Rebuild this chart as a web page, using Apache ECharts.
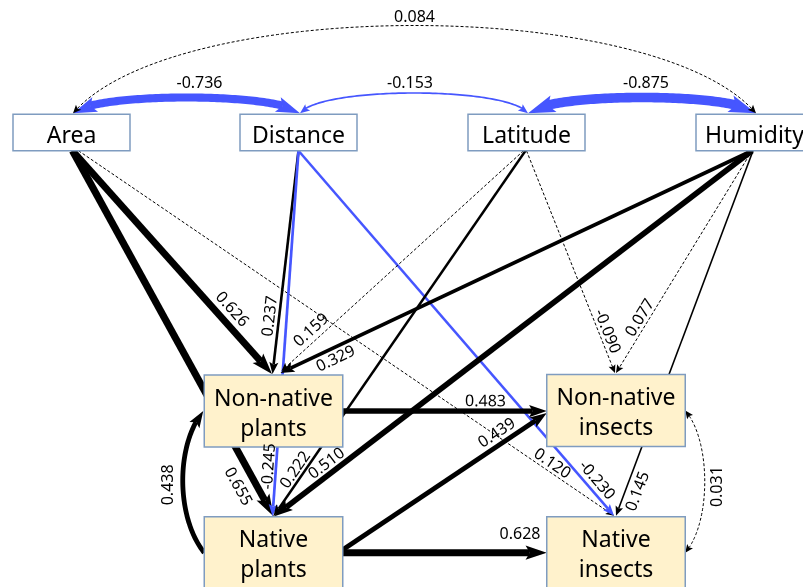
<!DOCTYPE html>
<html><head><meta charset="utf-8">
<script src="https://cdn.jsdelivr.net/npm/echarts@6/dist/echarts.min.js"></script>
<style>html,body{margin:0;padding:0;background:#fff}#c{width:803px;height:587px}</style>
</head><body><div id="c"></div>
<script>
// ---------------- data ----------------
const nodeKeys = ['Area','Distance','Latitude','Humidity','Non-native plants','Native plants','Non-native insects','Native insects'];
const nodeLabels = ['Area','Distance','Latitude','Humidity','Non-native\nplants','Native\nplants','Non-native\ninsects','Native\ninsects'];

const pathFrom = ['Area','Area','Area','Distance','Distance','Distance','Latitude','Latitude','Latitude','Humidity','Humidity','Humidity','Humidity','Non-native plants','Native plants','Native plants','Native plants'];
const pathTo   = ['Non-native plants','Native plants','Native insects','Non-native plants','Native plants','Native insects','Non-native plants','Native plants','Non-native insects','Non-native plants','Native plants','Non-native insects','Native insects','Non-native insects','Non-native insects','Native insects','Non-native plants'];
const pathCoef = [0.626,0.655,0.120,0.237,-0.245,-0.230,0.159,0.222,-0.090,0.329,0.510,0.077,0.145,0.483,0.439,0.628,0.438];
const pathSignificant = [1,1,0,1,1,1,0,1,0,1,1,0,1,1,1,1,1];

const corrA = ['Area','Distance','Latitude','Area','Non-native insects'];
const corrB = ['Distance','Latitude','Humidity','Humidity','Native insects'];
const corrCoef = [-0.736,-0.153,-0.875,0.084,0.031];
const corrSignificant = [1,1,1,0,0];

// ---------------- layout (positions / styles) ----------------
const TOP = {w:117,h:36.5,fill:'#ffffff'};
const BOT = {w:138.5,h:72,fill:'#fff2cc'};
const LAYOUT = {
  nodes: {
    'Area':{x:71.5,y:132.5,...TOP},
    'Distance':{x:298.5,y:132.5,...TOP},
    'Latitude':{x:526.5,y:132.5,...TOP},
    'Humidity':{x:754.5,y:132.5,...TOP},
    'Non-native plants':{x:273.5,y:411,...BOT},
    'Native plants':{x:273.5,y:552.7,...BOT},
    'Non-native insects':{x:616,y:410.6,...BOT},
    'Native insects':{x:616,y:552.7,...BOT}
  },
  paths: [
    {f:['b',1,0], t:['t',-1.5,-1], lt:0.75, ld:13},
    {f:['b',1,0], t:['t',0,-0.5], lt:0.897, ld:-17},
    {f:['b',7,0], t:['t',-2,-1], lt:0.876, ld:8},
    {f:['b',0,0], t:['t',-1,-1], lt:0.746, ld:9},
    {f:['b',0,0], t:['t',-1,-0.5], lt:0.865, ld:7},
    {f:['b',0,0], t:['t',-2,-1], lt:0.921, ld:10},
    {f:['b',-3,0], t:['t',8,-4], lt:0.849, ld:10},
    {f:['b',-1,0], t:['t',0,-0.5], lt:0.886, ld:8},
    {f:['b',0,0], t:['t',-1,-1.5], lt:0.826, ld:8},
    {f:['b',-2.5,0], t:['t',7,-2], lt:0.8925, ld:-11},
    {f:['b',-2.5,0], t:['t',1,-0.5], lt:0.878, ld:10},
    {f:['b',-2.5,0], t:['t',0,-1.5], lt:0.771, ld:8},
    {f:['b',-1.5,0], t:['t',0,-1], lt:0.922, ld:-12},
    {f:['r',0,0], t:['l',0,0.5], lt:0.70, ld:9.5},
    {f:['r',0,-3], t:['l',0,2.5], lt:0.786, ld:11},
    {f:['r',0,0], t:['l',0,0], lt:0.869, ld:18},
    {f:['l',0,0], t:['l',-1,0], c1:[-28,-35], c2:[-28,35], lab:[-14,3], rot:90}
  ],
  corrs: [
    {f:['t',1.5,-1], t:['t',1.5,-1], c1:[20,-21], c2:[-20,-21], lab:[13,-14]},
    {f:['t',1.5,-1], t:['t',1.5,-1], c1:[20,-27], c2:[-20,-27], lab:[-4,-10]},
    {f:['t',1.5,-1], t:['t',1.5,-1], c1:[20,-21], c2:[-20,-21], lab:[4,-14]},
    {f:['t',1.5,-1], t:['t',1.5,-1], c1:[100,-117], c2:[-100,-117], lab:[0,-8]},
    {f:['r',0,0], t:['r',0,0], c1:[26,30], c2:[26,-30], lab:[13,5], rot:90}
  ]
};
const BLUE = '#4656ff';
const BORDER = '#7f9cc0';
const FONT = '"Noto Sans", "DejaVu Sans", sans-serif';

// ---------------- build edges ----------------
const edges = [];
pathFrom.forEach((f,i)=>edges.push({from:f,to:pathTo[i],coef:pathCoef[i],sig:!!pathSignificant[i],both:false,geo:LAYOUT.paths[i]}));
corrA.forEach((a,i)=>edges.push({from:a,to:corrB[i],coef:corrCoef[i],sig:!!corrSignificant[i],both:true,geo:LAYOUT.corrs[i]}));

function anchor(key, spec){
  const n = LAYOUT.nodes[key]; const [side,dx,dy] = spec;
  let x=n.x, y=n.y;
  if(side==='t') y-=n.h/2; if(side==='b') y+=n.h/2;
  if(side==='l') x-=n.w/2; if(side==='r') x+=n.w/2;
  return [x+dx,y+dy];
}
function bez(P0,P1,P2,P3,t){
  const m=1-t;
  return [m*m*m*P0[0]+3*m*m*t*P1[0]+3*m*t*t*P2[0]+t*t*t*P3[0],
          m*m*m*P0[1]+3*m*m*t*P1[1]+3*m*t*t*P2[1]+t*t*t*P3[1]];
}
function cutEnd(pts,d){
  const out=pts.slice(); let rem=d;
  while(out.length>1){
    const a=out[out.length-2], b=out[out.length-1];
    const seg=Math.hypot(b[0]-a[0],b[1]-a[1]);
    if(seg>rem){const k=(seg-rem)/seg; out[out.length-1]=[a[0]+(b[0]-a[0])*k,a[1]+(b[1]-a[1])*k]; return out;}
    rem-=seg; out.pop();
  }
  return out;
}
function pointBack(pts,d){
  const c=cutEnd(pts,d); return c[c.length-1];
}
function head(tip,from,L,HW){
  const dx=tip[0]-from[0], dy=tip[1]-from[1], len=Math.hypot(dx,dy)||1;
  const ux=dx/len, uy=dy/len, nx=-uy, ny=ux;
  const bx=tip[0]-ux*L, by=tip[1]-uy*L;
  return [tip,[bx+nx*HW,by+ny*HW],[tip[0]-ux*L*0.8,tip[1]-uy*L*0.8],[bx-nx*HW,by-ny*HW]];
}
function edgeStyle(e){
  const w = e.sig ? Math.abs(e.coef)*11 : 1;
  const color = (e.sig && e.coef<0) ? BLUE : '#000';
  return {w, color, dash: e.sig ? null : [3,2], L: 6+2.2*w, HW: 3+0.6*w};
}

function renderEdge(params, api){
  const e = edges[params.dataIndex], g = e.geo;
  const s = anchor(e.from,g.f), t = anchor(e.to,g.t);
  const S = api.coord(s), T = api.coord(t);
  const st = edgeStyle(e);
  let pts;
  if(g.c1){
    const C1 = api.coord([s[0]+g.c1[0], s[1]+g.c1[1]]);
    const C2 = api.coord([t[0]+g.c2[0], t[1]+g.c2[1]]);
    pts=[]; for(let k=0;k<=100;k++) pts.push(bez(S,C1,C2,T,k/100));
  } else pts=[S,T];
  const children=[];
  let line = cutEnd(pts, st.L*0.8);
  children.push({type:'polygon', shape:{points:head(T, pointBack(pts,st.L), st.L, st.HW)}, style:{fill:st.color}});
  if(e.both){
    const rev = pts.slice().reverse();
    children.push({type:'polygon', shape:{points:head(S, pointBack(rev,st.L), st.L, st.HW)}, style:{fill:st.color}});
    line = cutEnd(line.slice().reverse(), st.L*0.8).reverse();
  }
  children.unshift({type:'polyline', shape:{points:line}, style:{stroke:st.color, lineWidth:st.w, fill:null, lineDash:st.dash, lineCap:'butt'}});
  return {type:'group', children};
}

function renderLabel(params, api){
  const e = edges[params.dataIndex], g = e.geo;
  const s = anchor(e.from,g.f), t = anchor(e.to,g.t);
  let cx, cy, rot=0;
  if(g.c1){
    const m = bez(s,[s[0]+g.c1[0],s[1]+g.c1[1]],[t[0]+g.c2[0],t[1]+g.c2[1]],t,0.5);
    cx = m[0]+g.lab[0]; cy = m[1]+g.lab[1]; rot = (g.rot||0)*Math.PI/180;
  } else {
    let ux=t[0]-s[0], uy=t[1]-s[1]; const len=Math.hypot(ux,uy); ux/=len; uy/=len;
    const px = s[0]+(t[0]-s[0])*g.lt, py = s[1]+(t[1]-s[1])*g.lt;
    if(ux<0 || (ux===0 && uy>0)){ux=-ux; uy=-uy;}
    cx = px + uy*g.ld; cy = py - ux*g.ld;
    rot = -Math.atan2(uy,ux);
  }
  const P = api.coord([cx,cy]);
  return {type:'text', x:P[0], y:P[1], rotation:rot,
    style:{text:e.coef.toFixed(3), fill:'#000', fontSize:16, fontFamily:FONT, align:'center', verticalAlign:'middle'}};
}

function renderNode(params, api){
  const key = nodeKeys[params.dataIndex], n = LAYOUT.nodes[key];
  const tl = api.coord([n.x-n.w/2, n.y-n.h/2]), br = api.coord([n.x+n.w/2, n.y+n.h/2]);
  const c = api.coord([n.x, n.y]);
  const lines = nodeLabels[params.dataIndex].split('\n');
  const children = [{type:'rect', shape:{x:tl[0],y:tl[1],width:br[0]-tl[0],height:br[1]-tl[1]}, style:{fill:n.fill, stroke:BORDER, lineWidth:1.5}}];
  const offs = lines.length===1 ? [4] : [-12, 18];
  lines.forEach((ln,i)=>children.push({type:'text', x:c[0], y:c[1]+offs[i],
    style:{text:ln, fill:'#000', fontSize:23, fontFamily:FONT, align:'center', verticalAlign:'middle'}}));
  return {type:'group', children};
}

const chart = echarts.init(document.getElementById('c'));
chart.setOption({
  animation:false,
  backgroundColor:'#ffffff',
  grid:{left:0,right:0,top:0,bottom:0},
  xAxis:{type:'value',min:0,max:803,show:false},
  yAxis:{type:'value',min:0,max:587,inverse:true,show:false},
  series:[
    {type:'custom', coordinateSystem:'cartesian2d', z:1, silent:true, clip:false, renderItem:renderEdge, data:edges.map((e,i)=>[i,0])},
    {type:'custom', coordinateSystem:'cartesian2d', z:2, silent:true, clip:false, renderItem:renderNode, data:nodeKeys.map((k,i)=>[i,0])},
    {type:'custom', coordinateSystem:'cartesian2d', z:3, silent:true, clip:false, renderItem:renderLabel, data:edges.map((e,i)=>[i,0])}
  ]
});
</script>
</body></html>
